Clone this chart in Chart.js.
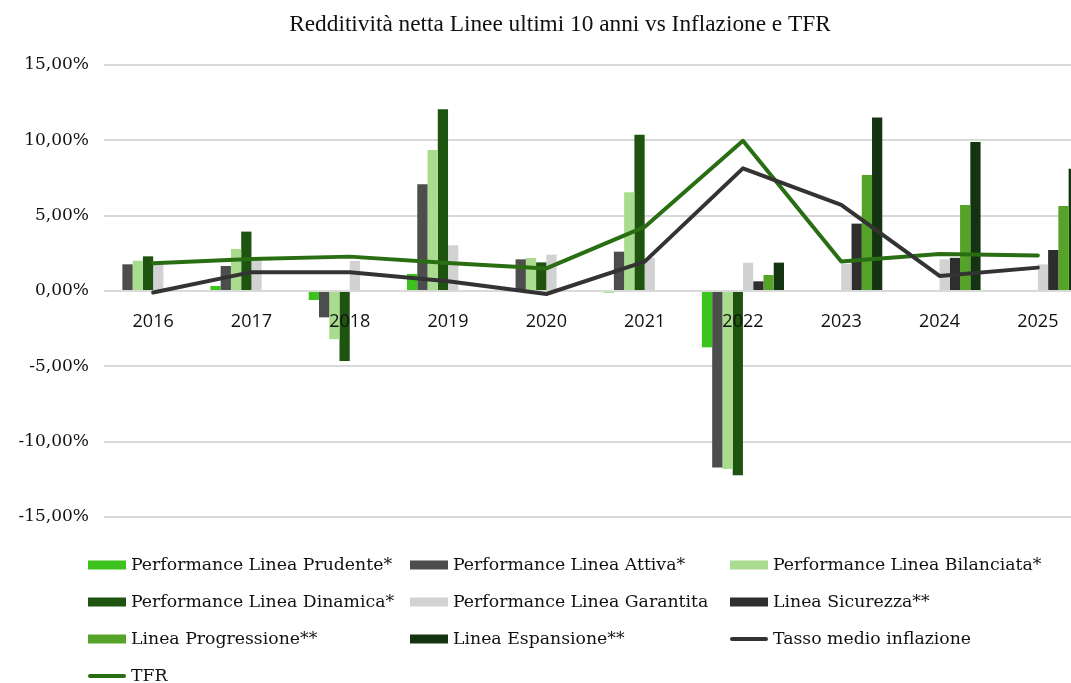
<!DOCTYPE html>
<html><head><meta charset="utf-8">
<script src="https://cdn.jsdelivr.net/npm/chart.js@4/dist/chart.umd.min.js"></script>
<style>html,body{margin:0;padding:0;background:#fff;overflow:hidden}#wrap{width:1120px;height:683px;position:relative}</style>
</head><body><div id="wrap"><canvas id="c" width="1120" height="683"></canvas></div>
<script>
const categories = ['2016','2017','2018','2019','2020','2021','2022','2023','2024','2025'];
const prudente     = [null, 0.33, -0.6, 1.13, null, -0.1, -3.74, null, null, null];
const attiva       = [1.77, 1.66, -1.75, 7.08, 2.1, 2.61, -11.72, null, null, null];
const bilanciata   = [2.01, 2.79, -3.2, 9.36, 2.19, 6.55, -11.81, null, null, null];
const dinamica     = [2.3, 3.94, -4.65, 12.06, 1.9, 10.37, -12.23, null, null, null];
const garantita    = [1.9, 2.05, 2.0, 3.03, 2.41, 2.19, 1.88, 1.8, 2.1, 1.77];
const sicurezza    = [null, null, null, null, null, null, 0.64, 4.47, 2.2, 2.72];
const progressione = [null, null, null, null, null, null, 1.06, 7.7, 5.71, 5.64];
const espansione   = [null, null, null, null, null, null, 1.88, 11.52, 9.89, 8.12];
const inflazione   = [-0.1, 1.25, 1.25, 0.65, -0.2, 1.95, 8.14, 5.71, 1.0, 1.55];
const tfr          = [1.84, 2.12, 2.28, 1.85, 1.5, 4.25, 9.97, 1.95, 2.45, 2.35];
const yTickValues  = [-15, -10, -5, 0, 5, 10, 15];
const yTickLabels  = ['-15,00%', '-10,00%', '-5,00%', '0,00%', '5,00%', '10,00%', '15,00%'];
const seriesNames  = ['Performance Linea Prudente*', 'Performance Linea Attiva*', 'Performance Linea Bilanciata*',
  'Performance Linea Dinamica*', 'Performance Linea Garantita', 'Linea Sicurezza**',
  'Linea Progressione**', 'Linea Espansione**', 'Tasso medio inflazione', 'TFR'];
const titleText = 'Redditività netta Linee ultimi 10 anni vs Inflazione e TFR';

const barSeries = [prudente, attiva, bilanciata, dinamica, garantita, sicurezza, progressione, espansione];
const barColors = ['#3dc31e', '#4d4d4d', '#a9dc8e', '#1f5410', '#d2d2d2', '#2e2e2e', '#55a328', '#143310'];
const lineSeries = [inflazione, tfr];
const lineColors = ['#333333', '#2a6e14'];

const datasets = [];
barSeries.forEach((d, i) => datasets.push({
  type: 'bar', label: seriesNames[i], data: d, backgroundColor: barColors[i],
  borderWidth: 0, categoryPercentage: 0.835, barPercentage: 1.0, order: 1
}));
lineSeries.forEach((d, i) => datasets.push({
  type: 'line', label: seriesNames[8 + i], data: d, borderColor: lineColors[i], backgroundColor: lineColors[i],
  borderWidth: 4, pointRadius: 0, tension: 0, borderCapStyle: 'round', borderJoinStyle: 'round', fill: false, order: 0
}));

const gridLegend = {
  id: 'gridLegend',
  afterDraw(chart) {
    const ctx = chart.ctx;
    const cols = [88, 410, 730];
    const rows = [565, 602, 639, 676];
    chart.data.datasets.forEach((ds, i) => {
      const x = cols[i % 3], y = rows[Math.floor(i / 3)];
      ctx.save();
      if (ds.type === 'line') {
        ctx.strokeStyle = ds.borderColor; ctx.lineWidth = 4; ctx.lineCap = 'round';
        ctx.beginPath(); ctx.moveTo(x + 2, y); ctx.lineTo(x + 36, y); ctx.stroke();
      } else {
        ctx.fillStyle = ds.backgroundColor; ctx.fillRect(x, y - 4.5, 38, 9);
      }
      ctx.fillStyle = '#111'; ctx.font = '17.3px "DejaVu Serif"'; ctx.textBaseline = 'middle'; ctx.textAlign = 'left';
      ctx.fillText(ds.label, x + 43, y + 1);
      ctx.restore();
    });
  }
};

new Chart(document.getElementById('c'), {
  data: { labels: categories, datasets },
  options: {
    responsive: false, animation: false,
    layout: { padding: { left: 0, right: 0, top: 0, bottom: 166 } },
    plugins: {
      legend: { display: false }, tooltip: { enabled: false },
      title: { display: true, text: titleText, color: '#111',
        font: { family: 'Liberation Serif', size: 23.3, weight: 'normal' }, padding: { top: 11, bottom: 26 } }
    },
    scales: {
      x: { position: { y: 0 }, offset: true, grid: { display: false }, border: { display: false },
        ticks: { z: 1, font: { family: 'Open Sans', size: 18 }, color: '#111', padding: 12, maxRotation: 0, autoSkip: false } },
      y: { min: -15, max: 15,
        ticks: { stepSize: 5, font: { family: 'DejaVu Serif', size: 17 }, color: '#111', padding: 15,
          callback: v => { const k = yTickValues.indexOf(v); return k >= 0 ? yTickLabels[k] : ''; } },
        grid: { color: '#d9d9d9', lineWidth: 2, drawTicks: false }, border: { display: false },
        afterFit: s => { s.width = 104; } },
      yRight: { position: 'right', min: -15, max: 15, display: true,
        grid: { display: false, drawTicks: false }, border: { display: false }, ticks: { display: false },
        afterFit: s => { s.width = 33; } }
    }
  },
  plugins: [gridLegend]
});
</script></body></html>
